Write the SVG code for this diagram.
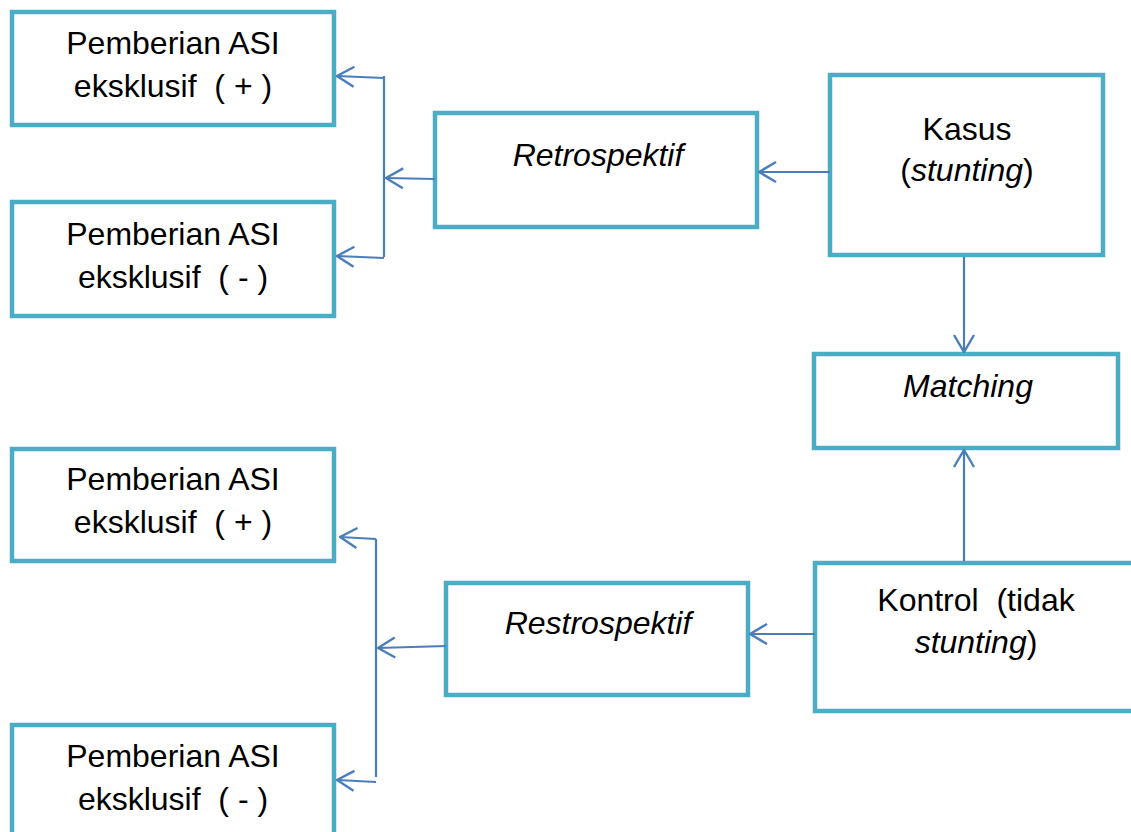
<svg xmlns="http://www.w3.org/2000/svg" width="1131" height="832" viewBox="0 0 1131 832">
<style>
.box{fill:#fff;stroke:#4BACC6;stroke-width:4.5}
.t{font-family:"Liberation Sans",Arial,sans-serif;font-size:32px;fill:#000;text-anchor:middle}
.i{font-style:italic}
.c{fill:none;stroke:#4A7EBB;stroke-width:2.2}
</style>
<defs>
<marker id="a" viewBox="0 0 20 24" refX="19" refY="12" markerWidth="20" markerHeight="24" markerUnits="userSpaceOnUse" orient="auto">
<path d="M2,2 L19,12 L2,22" fill="none" stroke="#4A7EBB" stroke-width="2.4"/>
</marker>
</defs>
<rect width="1131" height="832" fill="#fff"/>
<g id="n1"><rect class="box" x="12" y="12" width="322" height="113"/>
<text class="t" x="173" y="54">Pemberian ASI</text><text class="t" x="173" y="97" xml:space="preserve">eksklusif  ( + )</text></g>
<g id="n2"><rect class="box" x="12" y="202" width="322" height="114"/>
<text class="t" x="173" y="245">Pemberian ASI</text><text class="t" x="173" y="288" xml:space="preserve">eksklusif  ( - )</text></g>
<g id="n3"><rect class="box" x="435" y="113" width="322" height="114"/>
<text class="t i" x="598" y="166">Retrospektif</text></g>
<g id="n4"><rect class="box" x="830" y="75" width="273" height="180"/>
<text class="t" x="967" y="140">Kasus</text><text class="t" x="967" y="181">(<tspan class="i">stunting</tspan>)</text></g>
<g id="n5"><rect class="box" x="814" y="354" width="304" height="94"/>
<text class="t i" x="968" y="397">Matching</text></g>
<g id="n6"><rect class="box" x="815" y="563" width="340" height="148"/>
<text class="t" x="976" y="611" xml:space="preserve">Kontrol  (tidak</text><text class="t" x="976" y="653"><tspan class="i">stunting</tspan>)</text></g>
<g id="n7"><rect class="box" x="446" y="583" width="302" height="112"/>
<text class="t i" x="598" y="634">Restrospektif</text></g>
<g id="n8"><rect class="box" x="12" y="449" width="322" height="112"/>
<text class="t" x="173" y="490">Pemberian ASI</text><text class="t" x="173" y="533" xml:space="preserve">eksklusif  ( + )</text></g>
<g id="n9"><rect class="box" x="12" y="725" width="322" height="120"/>
<text class="t" x="173" y="767">Pemberian ASI</text><text class="t" x="173" y="810" xml:space="preserve">eksklusif  ( - )</text></g>
<g id="connectors">
<path class="c" d="M830,172 L759,172" marker-end="url(#a)"/>
<path class="c" d="M435,179 L386,178" marker-end="url(#a)"/>
<path class="c" d="M384,76 L384,257"/>
<path class="c" d="M384,78 L337,76" marker-end="url(#a)"/>
<path class="c" d="M384,258 L337,256" marker-end="url(#a)"/>
<path class="c" d="M964,257 L964,352" marker-end="url(#a)"/>
<path class="c" d="M964,561 L964,450" marker-end="url(#a)"/>
<path class="c" d="M815,634 L750,634" marker-end="url(#a)"/>
<path class="c" d="M446,646 L378,648" marker-end="url(#a)"/>
<path class="c" d="M376,539 L376,777"/>
<path class="c" d="M376,539 L340,537" marker-end="url(#a)"/>
<path class="c" d="M376,782 L337,780" marker-end="url(#a)"/>
</g>
</svg>
